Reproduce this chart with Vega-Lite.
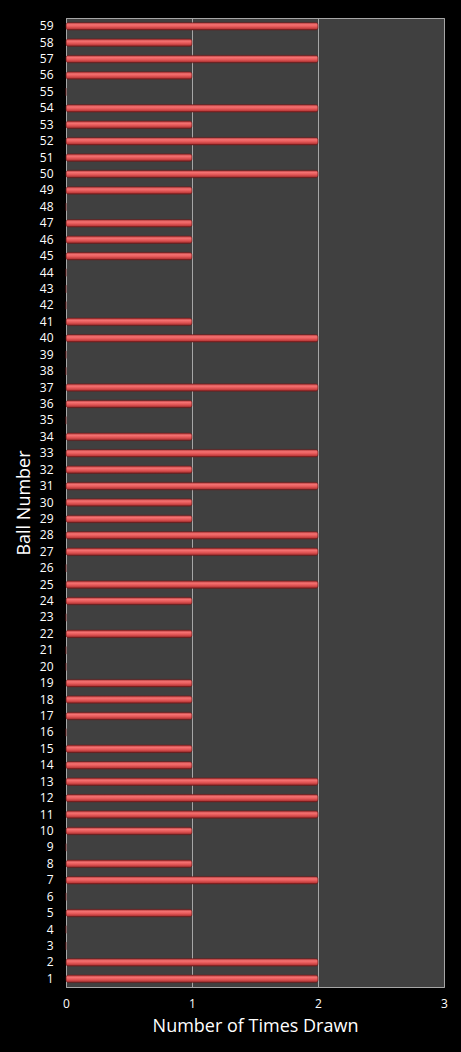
{
  "$schema": "https://vega.github.io/schema/vega-lite/v6.json",
  "width": 378,
  "height": 969,
  "autosize": {"type": "none"},
  "padding": {"left": 66, "top": 18, "right": 17, "bottom": 65},
  "background": "#000000",
  "view": {"fill": "#404040", "stroke": "#a6a6a6", "strokeWidth": 1},
  "data": {
    "values": [
      {"ball": 1, "drawn": 2}, {"ball": 2, "drawn": 2}, {"ball": 3, "drawn": 0},
      {"ball": 4, "drawn": 0}, {"ball": 5, "drawn": 1}, {"ball": 6, "drawn": 0},
      {"ball": 7, "drawn": 2}, {"ball": 8, "drawn": 1}, {"ball": 9, "drawn": 0},
      {"ball": 10, "drawn": 1}, {"ball": 11, "drawn": 2}, {"ball": 12, "drawn": 2},
      {"ball": 13, "drawn": 2}, {"ball": 14, "drawn": 1}, {"ball": 15, "drawn": 1},
      {"ball": 16, "drawn": 0}, {"ball": 17, "drawn": 1}, {"ball": 18, "drawn": 1},
      {"ball": 19, "drawn": 1}, {"ball": 20, "drawn": 0}, {"ball": 21, "drawn": 0},
      {"ball": 22, "drawn": 1}, {"ball": 23, "drawn": 0}, {"ball": 24, "drawn": 1},
      {"ball": 25, "drawn": 2}, {"ball": 26, "drawn": 0}, {"ball": 27, "drawn": 2},
      {"ball": 28, "drawn": 2}, {"ball": 29, "drawn": 1}, {"ball": 30, "drawn": 1},
      {"ball": 31, "drawn": 2}, {"ball": 32, "drawn": 1}, {"ball": 33, "drawn": 2},
      {"ball": 34, "drawn": 1}, {"ball": 35, "drawn": 0}, {"ball": 36, "drawn": 1},
      {"ball": 37, "drawn": 2}, {"ball": 38, "drawn": 0}, {"ball": 39, "drawn": 0},
      {"ball": 40, "drawn": 2}, {"ball": 41, "drawn": 1}, {"ball": 42, "drawn": 0},
      {"ball": 43, "drawn": 0}, {"ball": 44, "drawn": 0}, {"ball": 45, "drawn": 1},
      {"ball": 46, "drawn": 1}, {"ball": 47, "drawn": 1}, {"ball": 48, "drawn": 0},
      {"ball": 49, "drawn": 1}, {"ball": 50, "drawn": 2}, {"ball": 51, "drawn": 1},
      {"ball": 52, "drawn": 2}, {"ball": 53, "drawn": 1}, {"ball": 54, "drawn": 2},
      {"ball": 55, "drawn": 0}, {"ball": 56, "drawn": 1}, {"ball": 57, "drawn": 2},
      {"ball": 58, "drawn": 1}, {"ball": 59, "drawn": 2}
    ]
  },
  "mark": {
    "type": "bar",
    "height": {"band": 0.46},
    "cornerRadius": 2.5,
    "stroke": "#6e1c1c",
    "strokeWidth": 0.5,
    "color": {
      "gradient": "linear",
      "x1": 0, "y1": 0, "x2": 0, "y2": 1,
      "stops": [
        {"offset": 0, "color": "#a83434"},
        {"offset": 0.3, "color": "#f57272"},
        {"offset": 0.55, "color": "#e65a5a"},
        {"offset": 0.8, "color": "#c23e3e"},
        {"offset": 1, "color": "#6a1a1a"}
      ]
    }
  },
  "encoding": {
    "y": {
      "field": "ball",
      "type": "ordinal",
      "sort": "descending",
      "scale": {"paddingInner": 0, "paddingOuter": 0},
      "axis": {
        "title": "Ball Number",
        "titleColor": "#ffffff",
        "titleFont": "Open Sans",
        "titleFontSize": 18,
        "titleFontWeight": "normal",
        "titlePadding": 6,
        "labelColor": "#ffffff",
        "labelFont": "Open Sans",
        "labelFontSize": 12,
        "labelPadding": 13,
        "ticks": false,
        "domainColor": "#a6a6a6",
        "grid": false
      }
    },
    "x": {
      "field": "drawn",
      "type": "quantitative",
      "scale": {"domain": [0, 3], "nice": false},
      "axis": {
        "title": "Number of Times Drawn",
        "titleColor": "#ffffff",
        "titleFont": "Open Sans",
        "titleFontSize": 18,
        "titleFontWeight": "normal",
        "titlePadding": 8,
        "values": [0, 1, 2, 3],
        "format": "d",
        "labelColor": "#ffffff",
        "labelFont": "Open Sans",
        "labelFontSize": 12,
        "labelFlush": false,
        "labelPadding": 11,
        "ticks": false,
        "domain": false,
        "grid": true,
        "gridColor": "#a6a6a6",
        "gridWidth": 1
      }
    }
  },
  "config": {}
}
